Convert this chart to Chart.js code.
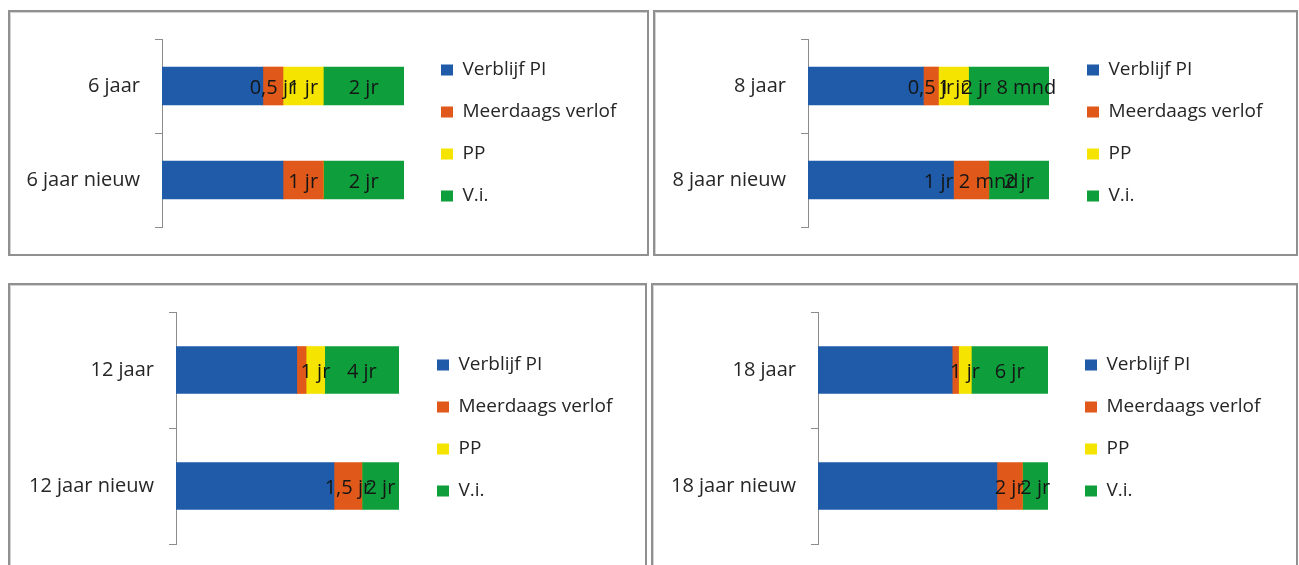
<!DOCTYPE html>
<html>
<head>
<meta charset="utf-8">
<script src="https://cdn.jsdelivr.net/npm/chart.js@4.4.0/dist/chart.umd.min.js"></script>
<style>
  body { margin: 0; background: #fff; width: 1299px; height: 565px; overflow: hidden; position: relative; }
  .panel { position: absolute; box-sizing: border-box; border: 2px solid #909090; box-shadow: inset 1px 1px 0 #d2d2d2; background: #fff; }
  .panel canvas { position: absolute; left: 0; top: 0; }
</style>
</head>
<body>
<div class="panel" id="p1" style="left:8px;top:10px;width:641px;height:246px"><canvas id="c1"></canvas></div>
<div class="panel" id="p2" style="left:653px;top:10px;width:645px;height:246px"><canvas id="c2"></canvas></div>
<div class="panel" id="p3" style="left:8px;top:283px;width:639px;height:290px"><canvas id="c3"></canvas></div>
<div class="panel" id="p4" style="left:651px;top:283px;width:647px;height:290px"><canvas id="c4"></canvas></div>
<script>
// series shared by all four charts
const seriesNames = ['Verblijf PI', 'Meerdaags verlof', 'PP', 'V.i.'];
const seriesColors = ['#1f5ba8', '#e0591a', '#f5e400', '#0e9f3c'];

// 6 years
const cats6 = ['6 jaar', '6 jaar nieuw'];
const pi6 = [2.5, 3];
const verlof6 = [0.5, 1];
const pp6 = [1, 0];
const vi6 = [2, 2];
const text6 = [[null, null], ['0,5 jr', '1 jr'], ['1 jr', null], ['2 jr', '2 jr']];

// 8 years
const cats8 = ['8 jaar', '8 jaar nieuw'];
const pi8 = [3.83, 4.83];
const verlof8 = [0.5, 1.17];
const pp8 = [1, 0];
const vi8 = [2.67, 2];
const text8 = [[null, null], ['0,5 jr', '1 jr 2 mnd'], ['1 jr', null], ['2 jr 8 mnd', '2 jr']];

// 12 years
const cats12 = ['12 jaar', '12 jaar nieuw'];
const pi12 = [6.5, 8.5];
const verlof12 = [0.5, 1.5];
const pp12 = [1, 0];
const vi12 = [4, 2];
const text12 = [[null, null], [null, '1,5 jr'], ['1 jr', null], ['4 jr', '2 jr']];

// 18 years
const cats18 = ['18 jaar', '18 jaar nieuw'];
const pi18 = [10.5, 14];
const verlof18 = [0.5, 2];
const pp18 = [1, 0];
const vi18 = [6, 2];
const text18 = [[null, null], [null, '2 jr'], ['1 jr', null], ['6 jr', '2 jr']];

const FONT = '"Open Sans", "DejaVu Sans", sans-serif';
const LEG_SIZE = 19, LEG_PAD = 23, LEG_BOX = 12;
const BORDER = 2;

// page-pixel layout of each panel
const panels = [
  { id: 'c1', box: [8, 10, 641, 246], area: [162, 404, 36, 230], legendX: 441, bar: 38, max: 6,
    cats: cats6, series: [pi6, verlof6, pp6, vi6], texts: text6 },
  { id: 'c2', box: [653, 10, 645, 246], area: [808, 1049, 36, 230], legendX: 1087, bar: 38, max: 8,
    cats: cats8, series: [pi8, verlof8, pp8, vi8], texts: text8 },
  { id: 'c3', box: [8, 283, 639, 290], area: [176, 399, 309, 547], legendX: 437, bar: 47, max: 12,
    cats: cats12, series: [pi12, verlof12, pp12, vi12], texts: text12 },
  { id: 'c4', box: [651, 283, 647, 290], area: [818, 1048, 309, 547], legendX: 1085, bar: 47, max: 18,
    cats: cats18, series: [pi18, verlof18, pp18, vi18], texts: text18 }
];

// measure widest legend text to size the layout padding
const mctx = document.createElement('canvas').getContext('2d');
mctx.font = LEG_SIZE + 'px ' + FONT;
const maxTextW = Math.max(...seriesNames.map(n => mctx.measureText(n).width));
const legendW = LEG_PAD + LEG_BOX + LEG_SIZE / 2 + maxTextW + 10;

function makeLabelPlugin(texts) {
  return {
    id: 'segLabels',
    afterDatasetsDraw(chart) {
      const ctx = chart.ctx;
      ctx.save();
      ctx.font = '20px ' + FONT;
      ctx.fillStyle = '#151515';
      ctx.textAlign = 'center';
      ctx.textBaseline = 'middle';
      chart.data.datasets.forEach((ds, i) => {
        chart.getDatasetMeta(i).data.forEach((bar, j) => {
          const t = texts[i][j];
          if (!t) return;
          ctx.fillText(t, (bar.x + bar.base) / 2, bar.y + 2);
        });
      });
      ctx.restore();
    }
  };
}

panels.forEach(p => {
  const ox = p.box[0] + BORDER, oy = p.box[1] + BORDER;
  const W = p.box[2] - 2 * BORDER, H = p.box[3] - 2 * BORDER;
  const canvas = document.getElementById(p.id);
  canvas.width = W; canvas.height = H;
  canvas.style.width = W + 'px'; canvas.style.height = H + 'px';

  const left = p.area[0] - ox, right = p.area[1] - ox;
  const top = p.area[2] - oy, bottom = p.area[3] - oy;
  const gapW = (p.legendX - ox) - LEG_PAD - right;
  const padR = W - right - gapW - legendW;

  const chart = new Chart(canvas, {
    type: 'bar',
    data: {
      labels: p.cats,
      datasets: seriesNames.map((name, i) => ({
        label: name,
        data: p.series[i],
        backgroundColor: seriesColors[i],
        borderWidth: 0,
        barThickness: p.bar
      }))
    },
    options: {
      indexAxis: 'y',
      responsive: false,
      animation: false,
      devicePixelRatio: 1,
      layout: { padding: { left: 0, top: top, bottom: H - bottom, right: padR } },
      scales: {
        x: { stacked: true, min: 0, max: p.max, display: false },
        y: {
          stacked: true,
          afterFit: s => { s.width = left; },
          grid: { drawOnChartArea: false, color: '#8c8c8c', tickLength: 7, offset: true },
          border: { color: '#8c8c8c' },
          ticks: { color: '#262626', padding: 15, font: { family: FONT, size: 20 } }
        },
        gap: {
          type: 'linear', position: 'right', display: true,
          grid: { display: false }, border: { display: false }, ticks: { display: false },
          afterFit: s => { s.width = gapW; }
        }
      },
      plugins: {
        legend: {
          position: 'right',
          maxWidth: 400,
          labels: {
            boxWidth: LEG_BOX, boxHeight: 11, padding: LEG_PAD, color: '#262626',
            font: { family: FONT, size: LEG_SIZE }
          }
        },
        tooltip: { enabled: false }
      }
    },
    plugins: [makeLabelPlugin(p.texts)]
  });

  // nudge padding if the chart area ended up off target
  const diff = chart.chartArea.right - right;
  if (Math.abs(diff) > 0.5) {
    chart.options.layout.padding.right = padR + diff;
    chart.update('none');
  }
});
</script>
</body>
</html>
